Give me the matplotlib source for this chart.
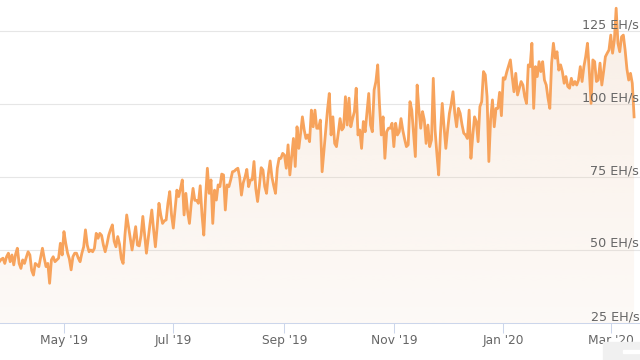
import numpy as np
import pandas as pd
import matplotlib
matplotlib.use('Agg')
import matplotlib.pyplot as plt
import matplotlib.dates as mdates
from matplotlib import transforms
from matplotlib.patches import Rectangle

# daily hashrate, EH/s
start_date = '2019-03-26'
hash_q2_2019 = [46.0, 46.8, 47.2, 45.4, 47.7, 48.9, 46.0, 48.3, 44.9, 48.5,
                50.6, 45.4, 43.7, 46.6, 45.4, 47.5, 49.4, 48.3, 43.0, 41.4,
                45.4, 44.9, 44.3, 47.5, 50.6, 47.2, 44.3, 45.4, 38.6, 46.6,
                47.7, 46.0, 46.6, 47.2, 52.3, 48.3, 56.3, 52.3, 49.0, 47.0,
                43.2, 47.7, 48.9, 48.9, 47.2, 46.0, 48.9, 51.1, 56.9, 51.7,
                49.4, 50.0, 49.4, 50.6, 55.7, 54.0, 55.7, 55.0, 51.7, 49.4,
                52.0, 55.1, 57.0, 58.6, 53.0, 51.1, 54.6, 52.0, 47.0, 45.4,
                55.0, 62.0, 58.0, 54.0, 50.0, 54.0, 58.0, 51.7, 51.4, 55.0,
                61.5, 55.0, 48.9, 54.0, 59.0, 63.7, 57.0, 51.1, 58.0, 66.0]
hash_q3_2019 = [62.0, 59.1, 60.0, 60.3, 66.0, 70.0, 62.0, 57.5, 64.0, 70.5,
                68.3, 71.0, 74.0, 62.0, 69.4, 63.0, 59.1, 66.0, 71.1, 67.0,
                67.0, 66.0, 72.0, 62.0, 55.1, 68.0, 78.0, 69.4, 74.0, 59.1,
                70.5, 67.1, 72.3, 71.7, 76.0, 75.7, 63.7, 72.3, 71.7, 74.0,
                76.8, 77.0, 77.6, 78.0, 75.0, 68.8, 73.0, 75.0, 77.6, 71.7,
                74.0, 74.0, 80.3, 71.0, 66.6, 72.0, 78.2, 77.4, 71.7, 69.4,
                76.0, 80.5, 75.0, 72.0, 69.4, 78.0, 81.4, 81.4, 83.1, 82.5,
                78.0, 86.0, 75.7, 82.0, 88.2, 78.6, 92.2, 84.8, 90.0, 95.6,
                91.1, 88.2, 89.4, 87.1, 97.9, 92.2, 97.9, 91.7, 91.7, 94.5]
hash_q4_2019 = [76.8, 84.0, 91.1, 98.0, 103.6, 89.4, 95.6, 86.5, 85.4, 90.0,
                95.0, 91.1, 92.0, 102.5, 92.8, 102.0, 92.2, 95.0, 97.4, 105.4,
                89.4, 91.1, 84.8, 94.0, 90.5, 97.0, 103.6, 92.8, 90.5, 104.8,
                107.7, 113.4, 99.7, 89.4, 95.6, 81.4, 90.5, 91.7, 91.7, 93.4,
                85.4, 93.4, 89.4, 90.5, 95.0, 91.0, 88.0, 85.4, 86.0, 100.8,
                97.9, 90.0, 82.0, 106.5, 98.0, 91.7, 97.4, 94.5, 86.5, 92.8,
                85.4, 87.7, 108.8, 91.1, 83.0, 75.7, 90.0, 100.2, 92.2, 84.8,
                91.1, 96.8, 100.0, 104.2, 96.8, 92.2, 98.5, 96.8, 93.0, 90.0,
                89.4, 88.2, 97.9, 81.4, 89.0, 95.6, 94.0, 87.1, 99.1, 100.8]
hash_q1_2020 = [111.1, 110.0, 102.5, 80.3, 95.0, 101.4, 92.2, 98.5, 98.5, 104.0,
                96.0, 109.0, 108.5, 111.0, 113.0, 115.1, 109.4, 104.2, 110.5, 103.1,
                105.4, 107.7, 106.5, 102.5, 100.2, 113.4, 112.8, 120.8, 98.5, 112.8,
                109.4, 114.5, 111.1, 114.5, 108.2, 106.5, 102.0, 98.5, 114.0, 120.8,
                115.7, 117.9, 111.6, 113.4, 111.1, 107.1, 109.4, 106.0, 105.4, 108.8,
                106.5, 107.7, 106.5, 108.2, 112.8, 107.7, 112.8, 116.2, 120.8, 111.6,
                100.2, 115.1, 114.5, 107.7, 108.2, 114.0, 106.5, 111.1, 116.2, 117.4,
                118.5, 123.6, 117.4, 121.9, 132.8, 120.8, 117.9, 123.0, 123.6, 118.5,
                112.0, 108.2, 110.5, 107.1, 95.6]

y_levels = [25, 50, 75, 100, 125]
unit = 'EH/s'
month_ticks = ['2019-05-01', '2019-07-01', '2019-09-01',
               '2019-11-01', '2020-01-01', '2020-03-01']

hashrate = np.array(hash_q2_2019 + hash_q3_2019 + hash_q4_2019 + hash_q1_2020)
dates = pd.date_range(start_date, periods=len(hashrate), freq='D')
x = mdates.date2num(dates)
x0 = mdates.date2num(pd.Timestamp(start_date))

fig = plt.figure(figsize=(6.4, 3.6), dpi=100)
ax = fig.add_axes([0, 37/360, 1, 323/360])
xlim = (x0 + 0.33, x0 + 357.3)
ylim = (25, 25 + 323*25/73)

# gridlines
for v in y_levels[1:]:
    ax.axhline(v, color='#e6e6e6', lw=0.8, zorder=0.5)

# gradient fill under the line
poly = ax.fill_between(x, hashrate, 25, facecolor='none', edgecolor='none')
t = np.linspace(0, 1, 256)[:, None]
alpha = 0.30*(1-t) + 0.10*t
grad = np.zeros((256, 1, 4))
grad[:, 0, :3] = np.array([235, 200, 170])/255
grad[:, 0, 3] = alpha[:, 0]
img = ax.imshow(grad, aspect='auto', extent=[xlim[0], xlim[1], ylim[0], ylim[1]],
                origin='upper', zorder=1, interpolation='bilinear')
img.set_clip_path(poly.get_paths()[0], transform=ax.transData)

ax.plot(x, hashrate, color='#f7a35c', lw=2.0, zorder=3, solid_joinstyle='round')

ax.set_xlim(*xlim)
ax.set_ylim(*ylim)

# y labels inside on the right
trans = transforms.offset_copy(
    transforms.blended_transform_factory(ax.transAxes, ax.transData),
    fig=fig, y=3, units='dots')
for v in y_levels:
    ax.text(0.999, v, f'{v} {unit}', transform=trans, ha='right', va='baseline',
            fontsize=9.2, color='#666666', zorder=5, clip_on=False)

ax.set_xticks(mdates.date2num(pd.to_datetime(month_ticks)))
ax.xaxis.set_major_formatter(mdates.DateFormatter("%b '%y"))
ax.tick_params(axis='x', length=7.2, width=0.75, color='#ccd6eb',
               labelcolor='#666666', labelsize=8.8, pad=0.5)
ax.set_yticks([])
for s in ['top', 'left', 'right']:
    ax.spines[s].set_visible(False)
ax.spines['bottom'].set_color('#ccd6eb')
ax.spines['bottom'].set_linewidth(0.75)

# grey corner piece bottom right
fig.patches.append(Rectangle((603/640, 0), 37/640, 18/360, transform=fig.transFigure,
                             color='#f0f0f0', zorder=0))
fig.patches.append(Rectangle((623/640, 7/360), 17/640, 3/360, transform=fig.transFigure,
                             color='white', zorder=1))

fig.savefig('out.png', dpi=100)
